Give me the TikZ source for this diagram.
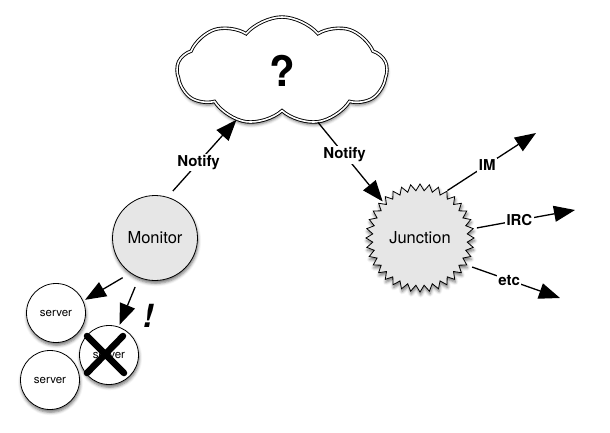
\documentclass[tikz,border=0pt]{standalone}
\usepackage{fontspec}
\setmainfont{TeX Gyre Heros}
\usetikzlibrary{arrows.meta,shapes.symbols,shapes.geometric,shadows.blur}
\definecolor{bubble}{HTML}{E6E6E6}
\tikzset{
  soft/.style={blur shadow={shadow xshift=0.6pt, shadow yshift=-2.8pt, shadow blur radius=3pt, shadow opacity=55}},
  hub/.style={circle, draw, line width=0.8pt, fill=bubble, soft, inner sep=0pt, minimum size=85pt, font=\fontsize{16.5}{18}\selectfont},
  srv/.style={circle, draw, line width=0.8pt, fill=white, soft, inner sep=0pt, minimum size=59pt, font=\fontsize{11.5}{13}\selectfont},
  arr/.style={line width=1.3pt, -{Triangle[length=21pt,width=16pt]}},
  lab/.style={fill=white, inner sep=1.5pt, font=\bfseries\fontsize{15}{17}\selectfont},
}

\begin{document}
\begin{tikzpicture}[x=1pt, y=-1pt]
  \useasboundingbox (0,0) rectangle (610,433);

  % the unknown
  \node[cloud, cloud puffs=9, cloud puff arc=100, cloud ignores aspect,
        draw, double=white, double distance=1.6pt, line width=0.9pt,
        fill=white, soft, minimum width=210pt, minimum height=108pt,
        font=\bfseries\fontsize{42}{44}\selectfont] (cloud) at (282,71) {?};

  \node[hub] (monitor) at (155,238) {Monitor};
  \node[srv] (s1) at (56,313) {server};
  \node[srv] (s3) at (50,380) {server};
  \node[srv] (s2) at (109,355) {server};

  % this one is down
  \draw[line width=6.5pt, line cap=round]
    ([shift={(-22,-19)}]s2.center) -- ([shift={(15,18)}]s2.center)
    ([shift={(14,-19)}]s2.center) -- ([shift={(-22,18)}]s2.center);
  \node[font=\bfseries\itshape\fontsize{32}{34}\selectfont] (bang) at (148,316) {!};

  \node[star, star points=36, star point ratio=1.14, draw, line width=0.8pt,
        fill=bubble, soft, inner sep=0pt, minimum size=108pt,
        font=\fontsize{16.5}{18}\selectfont] (junction) at (420,238) {Junction};

  \coordinate (im) at (536,133);
  \coordinate (irc) at (575,210);
  \coordinate (etc) at (560,298);

  \draw[arr, shorten <=9pt, shorten >=2pt] (monitor.235) -- (s1.24);
  \draw[arr, shorten <=10pt, shorten >=2pt] (monitor.248) -- (s2.71);
  \draw[arr, shorten <=8pt] (monitor.73) -- node[lab, pos=0.45] {Notify} (cloud.227);
  \draw[arr, shorten >=3pt] (cloud.305) -- node[lab, pos=0.4] {Notify} (junction.136);

  \draw[arr] (junction.60) -- node[lab, pos=0.45] {IM} (im);
  \draw[arr, shorten <=3pt] (junction.10) -- node[lab, pos=0.45] {IRC} (irc);
  \draw[arr, shorten <=5pt] (junction.-30) -- node[lab, pos=0.45] {etc} (etc);
\end{tikzpicture}
\end{document}
